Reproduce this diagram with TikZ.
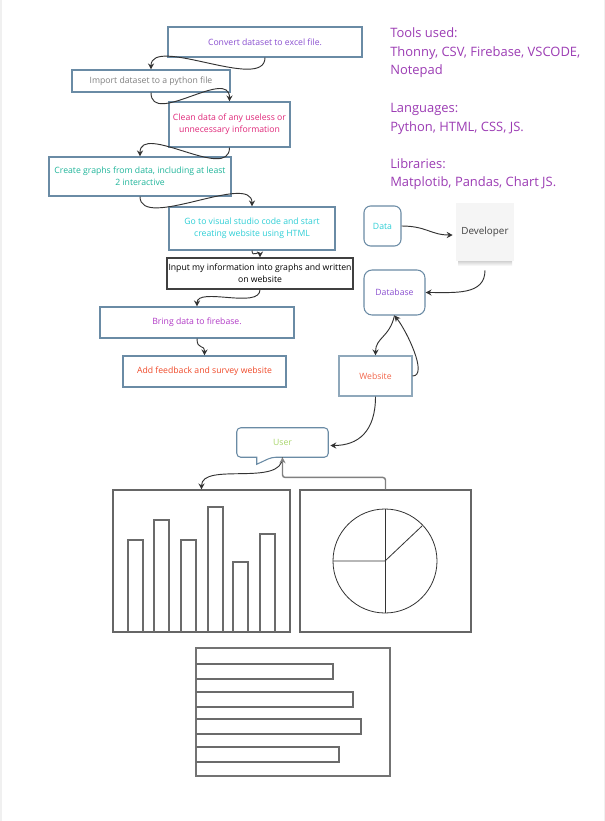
\documentclass[tikz,border=0pt]{standalone}
\usepackage{fontspec}
\setmainfont{Open Sans}
\usetikzlibrary{arrows.meta,calc}
\definecolor{bordc}{HTML}{6A8BA5}
\definecolor{conc}{HTML}{333333}
\definecolor{cPurple}{HTML}{8A4FD0}
\definecolor{cGray}{HTML}{808080}
\definecolor{cPink}{HTML}{E0287A}
\definecolor{cTeal}{HTML}{1FB59A}
\definecolor{cCyan}{HTML}{2ECFD6}
\definecolor{cMag}{HTML}{B13AC6}
\definecolor{cRed}{HTML}{F04A2A}
\definecolor{cSide}{HTML}{9C3CB4}
\definecolor{cGreen}{HTML}{A8D66A}
\definecolor{cChart}{HTML}{666666}
\tikzset{
  x=0.75pt, y=-0.75pt,
  flowbox/.style={draw=bordc, line width=0.8pt, align=center, inner sep=0pt,
    font=\fontsize{6.5pt}{9pt}\selectfont},
  conn/.style={draw=conc, line width=0.7pt, -{Stealth[length=4.5pt,width=4.5pt]}},
  sidetext/.style={anchor=base west, text=cSide, font=\fontsize{9.7pt}{13.9pt}\selectfont, inner sep=0pt},
  chartline/.style={draw=cChart, line width=0.8pt},
  barstyle/.style={draw=black!58, line width=0.8pt},
}
\begin{document}
\begin{tikzpicture}
\useasboundingbox (0,0) rectangle (605,821);
\fill[white] (0,0) rectangle (605,821);
\fill[black!6] (0,0) rectangle (2,821);
\fill[black!6] (603.5,0) rectangle (605,821);

% flow boxes
\node[flowbox, text=cPurple, minimum width=194*0.75pt, minimum height=30*0.75pt] (b1) at (265,42) {Convert dataset to excel file.};
\node[flowbox, text=cGray, minimum width=158*0.75pt, minimum height=22*0.75pt] (b2) at (151,81) {Import dataset to a python file};
\node[flowbox, text=cPink, minimum width=121*0.75pt, minimum height=45*0.75pt] (b3) at (229.5,124.5) {Clean data of any useless or\\unnecessary information};
\node[flowbox, text=cTeal, minimum width=182*0.75pt, minimum height=39*0.75pt] (b4) at (140,176.5) {Create graphs from data, including at least\\2 interactive};
\node[flowbox, text=cCyan, minimum width=166*0.75pt, minimum height=43*0.75pt] (b5) at (252,228.5) {Go to visual studio code and start\\creating website using HTML};
\node[flowbox, draw=black!75, text=black, minimum width=186*0.75pt, minimum height=31*0.75pt] (b6) at (260,273.5) {Input my information into graphs and written\\on website};
\node[flowbox, text=cMag, minimum width=194*0.75pt, minimum height=31*0.75pt] (b7) at (197,322.5) {Bring data to firebase.};
\node[flowbox, text=cRed, minimum width=163*0.75pt, minimum height=31*0.75pt] (b8) at (204.5,371.5) {Add feedback and survey website};

% flow connectors
\draw[conn] (b1.south) .. controls ($(b1.south)+(0,35)$) and ($(b2.north)+(0,-35)$) .. (b2.north);
\draw[conn] (b2.south) .. controls ($(b2.south)+(0,35)$) and ($(b3.north)+(0,-35)$) .. (b3.north);
\draw[conn] (b3.south) .. controls ($(b3.south)+(0,35)$) and ($(b4.north)+(0,-35)$) .. (b4.north);
\draw[conn] (b4.south) .. controls ($(b4.south)+(0,35)$) and ($(b5.north)+(0,-35)$) .. (b5.north);
\draw[conn] (b5.south) .. controls ($(b5.south)+(0,8)$) and ($(b6.north)+(0,-8)$) .. (b6.north);
\draw[conn] (b6.south) .. controls ($(b6.south)+(0,20)$) and ($(b7.north)+(0,-20)$) .. (b7.north);
\draw[conn] (b7.south) .. controls ($(b7.south)+(0,12)$) and ($(b8.north)+(0,-12)$) .. (b8.north);

% side text
\node[sidetext] (t1) at (390,37) {Tools used:};
\node[sidetext] (t2) at (390,56) {Thonny, CSV, Firebase, VSCODE,};
\node[sidetext] (t3) at (390,74) {Notepad};
\node[sidetext] (t4) at (390,112) {Languages:};
\node[sidetext] (t5) at (390,131) {Python, HTML, CSS, JS.};
\node[sidetext] (t6) at (390,168) {Libraries:};
\node[sidetext] (t7) at (390,186) {Matplotib, Pandas, Chart JS.};

% right side nodes
\node[flowbox, rounded corners=5pt, text=cCyan, minimum width=37*0.75pt, minimum height=40*0.75pt] (data) at (382.5,226) {Data};
\shade[top color=black!25, bottom color=white] (458,259) rectangle (512,266);
\node[fill=black!4, minimum width=58*0.75pt, minimum height=58*0.75pt, inner sep=0pt, text=black!75, font=\fontsize{7.4pt}{9pt}\selectfont] (dev) at (485,232) {Developer};
\node[flowbox, rounded corners=6pt, text=cPurple, minimum width=61*0.75pt, minimum height=45*0.75pt] (db) at (394.5,292.5) {Database};
\node[flowbox, draw=bordc!75, text=cRed!85, minimum width=73*0.75pt, minimum height=40*0.75pt] (web) at (375.5,376) {Website};

% user speech bubble
\node[inner sep=0pt, text=cGreen, font=\fontsize{6.5pt}{9pt}\selectfont, minimum width=91*0.75pt, minimum height=29*0.75pt] (user) at (282.5,442.5) {User};
\draw[draw=bordc, line width=0.8pt, fill=white, rounded corners=3pt] (user.north west) -- (user.north east) -- (user.south east) -- ($(user.south west)+(35,0)$) [sharp corners] -- ($(user.south west)+(20,7)$) -- ($(user.south west)+(20,0)$) [rounded corners=3pt] -- (user.south west) -- cycle;
\node[text=cGreen, font=\fontsize{6.5pt}{9pt}\selectfont] at (user) {User};

% right side connectors
\draw[conn] (data.east) .. controls ($(data.east)+(25,0)$) and ($(dev.west)+(-25,3)$) .. ($(dev.west)+(-3,3)$);
\coordinate (devout) at ($(dev.south)+(0,9)$);
\draw[conn] (devout) .. controls ($(devout)+(0,25)$) and ($(db.east)+(30,0)$) .. (db.east);
\draw[conn] (db.south) .. controls ($(db.south)+(-5,22)$) and ($(web.north)+(0,-18)$) .. (web.north);
\draw[conn] (web.east) .. controls ($(web.east)+(16,0)$) and ($(db.south)+(12,15)$) .. (db.south);
\draw[conn] (web.south) .. controls ($(web.south)+(0,35)$) and ($(user.east)+(30,3)$) .. ($(user.east)+(2,3)$);

% charts
\node[chartline, minimum width=177*0.75pt, minimum height=142*0.75pt, inner sep=0pt] (bar) at (201.5,561) {};
\node[chartline, minimum width=171*0.75pt, minimum height=142*0.75pt, inner sep=0pt] (pie) at (385.5,561) {};
\node[chartline, draw=black!55, minimum width=194*0.75pt, minimum height=128*0.75pt, inner sep=0pt] (hbar) at (293,712) {};

\foreach \a/\b/\t in {128/143/540, 154/169/520, 181/196/540, 208/223/507, 233/248/562, 260/275/534}{
  \draw[barstyle] (\a,632) -- (\a,\t) -- (\b,\t) -- (\b,632);
}
\draw[draw=black!80, line width=0.6pt] (385,561) circle[radius=52*0.75pt];
\draw[draw=black!80, line width=0.6pt] (385,509) -- (385,613);
\draw[draw=black!80, line width=0.6pt] (333,561) -- (385,561) -- (422,526);

\foreach \r/\ta/\tb in {333/664/679, 353/692/707, 361/719/734, 339/747/762}{
  \draw[barstyle] (196,\ta) -- (\r,\ta) -- (\r,\tb) -- (196,\tb);
}

% user connectors
\draw[conn] (user.south) .. controls ($(user.south)+(0,30)$) and ($(bar.north)+(0,-28)$) .. (bar.north);
\draw[conn, draw=black!50, line width=1.1pt, rounded corners=2pt] (pie.north) -- ++(0,-12) -| (user.south);
\end{tikzpicture}
\end{document}
